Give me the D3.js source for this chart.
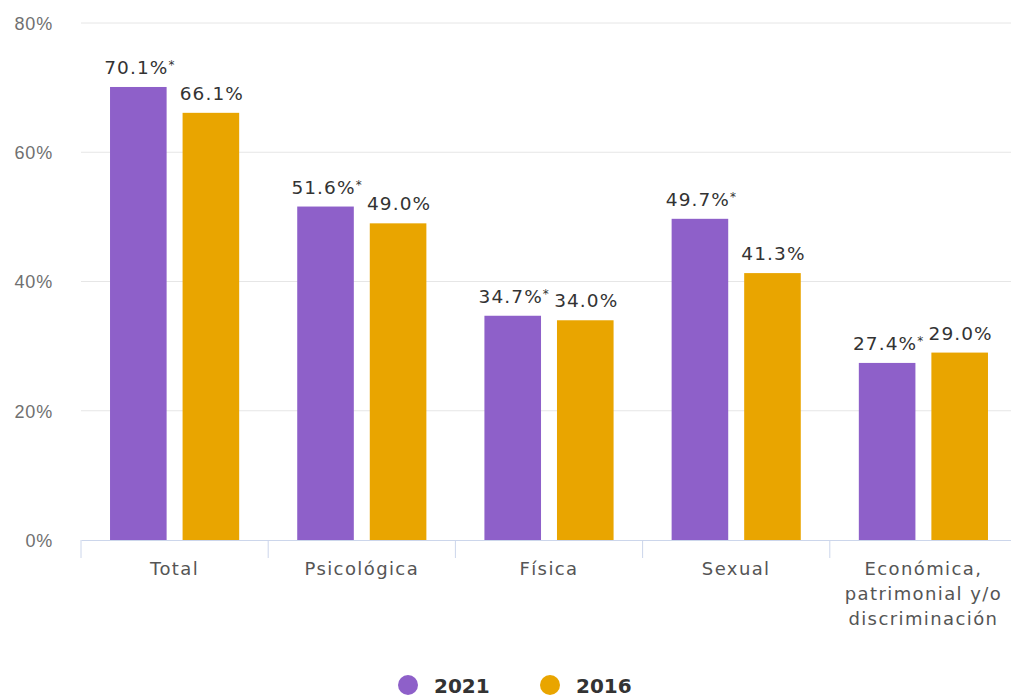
<!DOCTYPE html>
<html>
<head>
<meta charset="utf-8">
<script src="https://cdn.jsdelivr.net/npm/d3@7"></script>
<style>
  html, body { margin: 0; padding: 0; background: #fff; }
  svg { display: block; font-family: "DejaVu Sans", sans-serif; }
</style>
</head>
<body>
<svg id="chart" width="1011" height="698"></svg>
<script>
// Violence types and prevalence by survey year
const categories = ["Total", "Psicológica", "Física", "Sexual", "Económica, patrimonial y/o discriminación"];
const categoryLines = [["Total"], ["Psicológica"], ["Física"], ["Sexual"], ["Económica,", "patrimonial y/o", "discriminación"]];
const series2021 = [70.1, 51.6, 34.7, 49.7, 27.4];
const series2016 = [66.1, 49.0, 34.0, 41.3, 29.0];
const significant2021 = [true, true, true, true, true];
const yTicks = [0, 20, 40, 60, 80];
const seriesNames = ["2021", "2016"];
const seriesColors = ["#8e60c9", "#e9a500"];

const svg = d3.select("#chart");
const plotLeft = 81, plotRight = 1017, plotTop = 23, plotBottom = 540;

const x = d3.scaleBand().domain(categories).range([plotLeft, plotRight]).paddingInner(0).paddingOuter(0);
const xSub = d3.scaleBand().domain(seriesNames).range([0, x.bandwidth()]).paddingInner(0.22).paddingOuter(0.4);
const y = d3.scaleLinear().domain([0, 80]).range([plotBottom, plotTop]);

// gridlines
svg.append("g").selectAll("line").data(yTicks.filter(d => d > 0)).join("line")
  .attr("x1", plotLeft).attr("x2", plotRight)
  .attr("y1", d => y(d)).attr("y2", d => y(d))
  .attr("stroke", "#e6e6e6").attr("stroke-width", 1);

// y axis labels
const yAxis = svg.append("g").attr("transform", `translate(${plotLeft - 25},0)`)
  .call(d3.axisLeft(y).tickValues(yTicks).tickFormat(d => d + "%").tickSize(0));
yAxis.select(".domain").remove();
yAxis.selectAll("text").attr("fill", "#707070").style("font-size", "18px")
  .style("letter-spacing", "0.8px").attr("dy", "0.36em");

// x axis line and category separators
const xAxis = svg.append("g").attr("transform", `translate(0,${plotBottom})`)
  .call(d3.axisBottom(x).tickSize(0).tickFormat(""));
xAxis.select(".domain").attr("stroke", "#ccd6eb");
xAxis.selectAll(".tick").remove();
xAxis.selectAll("line.sep").data(d3.range(categories.length + 1)).join("line")
  .attr("class", "sep")
  .attr("x1", i => plotLeft + i * x.bandwidth()).attr("x2", i => plotLeft + i * x.bandwidth())
  .attr("y1", 0).attr("y2", 18).attr("stroke", "#ccd6eb");

// category labels
const catG = svg.append("g");
categories.forEach((c, i) => {
  const cx = x(c) + x.bandwidth() / 2;
  const t = catG.append("text")
    .attr("x", cx).attr("y", 575)
    .attr("text-anchor", "middle").attr("fill", "#555")
    .style("font-size", "18px").style("letter-spacing", "1.4px");
  categoryLines[i].forEach((line, j) => {
    t.append("tspan").attr("x", cx).attr("dy", j === 0 ? 0 : 25).text(line);
  });
});

// bars with value labels
const allSeries = [series2021, series2016];
allSeries.forEach((vals, s) => {
  const g = svg.append("g");
  g.selectAll("rect").data(vals).join("rect")
    .attr("x", (d, i) => x(categories[i]) + xSub(seriesNames[s]))
    .attr("width", xSub.bandwidth())
    .attr("y", d => y(d))
    .attr("height", d => y(0) - y(d))
    .attr("fill", seriesColors[s]);

  const labels = g.selectAll("text").data(vals).join("text")
    .attr("x", (d, i) => x(categories[i]) + xSub(seriesNames[s]) + xSub.bandwidth() / 2 + 1)
    .attr("y", d => y(d) - 13)
    .attr("text-anchor", "middle")
    .attr("fill", "#333").style("font-size", "18.5px").style("letter-spacing", "1.1px");
  labels.append("tspan").text(d => d.toFixed(1) + "%");
  if (s === 0) {
    labels.filter((d, i) => significant2021[i]).append("tspan")
      .attr("dy", -5).style("font-size", "12px").style("letter-spacing", "0").text("*");
  }
});

// legend
const legend = svg.append("g");
const legendX = [408, 550];
seriesNames.forEach((n, i) => {
  legend.append("circle").attr("cx", legendX[i]).attr("cy", 685).attr("r", 10).attr("fill", seriesColors[i]);
  legend.append("text").attr("x", legendX[i] + 26).attr("y", 693)
    .attr("fill", "#333").style("font-size", "20px").style("font-weight", "bold").text(n);
});
</script>
</body>
</html>
